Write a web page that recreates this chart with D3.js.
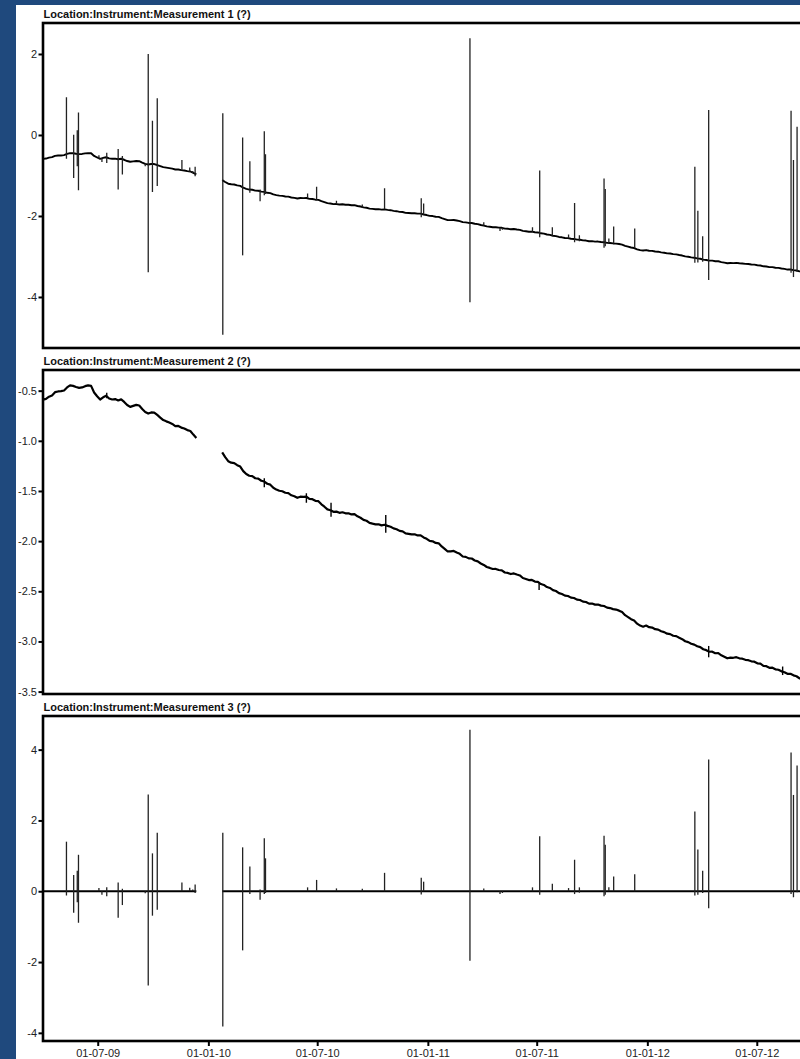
<!DOCTYPE html>
<html>
<head>
<meta charset="utf-8">
<script src="https://cdn.jsdelivr.net/npm/d3@7"></script>
<style>
  html, body { margin: 0; padding: 0; background: #1f497d; }
  svg { display: block; }
  text { font-family: "Liberation Sans", Arial, sans-serif; }
</style>
</head>
<body>
<svg id="chart" width="800" height="1059"></svg>
<script>
// ---- Data -------------------------------------------------------------
const titles = [
  "Location:Instrument:Measurement 1 (?)",
  "Location:Instrument:Measurement 2 (?)",
  "Location:Instrument:Measurement 3 (?)"
];

// Measurement 2 is logged every 5 days, in two recording periods
const sampleStepDays = 5;
const seg1Start = "2009-04-01";
const seg1Values = [
  -0.590, -0.582, -0.560, -0.548, -0.515, -0.508, -0.505, -0.498, -0.468, -0.447,
  -0.452, -0.463, -0.472, -0.468, -0.455, -0.447, -0.452, -0.518, -0.556, -0.588,
  -0.566, -0.550, -0.578, -0.588, -0.584, -0.598, -0.587, -0.612, -0.643, -0.662,
  -0.652, -0.642, -0.648, -0.682, -0.712, -0.728, -0.717, -0.718, -0.742, -0.768,
  -0.793, -0.806, -0.818, -0.832, -0.853, -0.852, -0.868, -0.877, -0.893, -0.902,
  -0.938, -0.972
];
const seg2Start = "2010-01-24";
const seg2Values = [
  -1.115, -1.162, -1.203, -1.218, -1.222, -1.243, -1.257, -1.302, -1.331, -1.348,
  -1.352, -1.373, -1.377, -1.398, -1.406, -1.428, -1.437, -1.468, -1.486, -1.498,
  -1.503, -1.518, -1.522, -1.543, -1.552, -1.568, -1.557, -1.558, -1.556, -1.578,
  -1.582, -1.598, -1.602, -1.633, -1.657, -1.684, -1.692, -1.708, -1.706, -1.718,
  -1.712, -1.723, -1.722, -1.734, -1.731, -1.753, -1.767, -1.788, -1.797, -1.818,
  -1.826, -1.833, -1.832, -1.843, -1.837, -1.848, -1.857, -1.873, -1.882, -1.898,
  -1.902, -1.923, -1.927, -1.933, -1.932, -1.943, -1.942, -1.963, -1.977, -1.998,
  -2.002, -2.018, -2.022, -2.053, -2.077, -2.103, -2.102, -2.098, -2.113, -2.127,
  -2.153, -2.157, -2.172, -2.173, -2.193, -2.202, -2.223, -2.237, -2.258, -2.267,
  -2.278, -2.277, -2.288, -2.292, -2.313, -2.317, -2.328, -2.322, -2.333, -2.342,
  -2.368, -2.377, -2.388, -2.387, -2.403, -2.407, -2.428, -2.437, -2.458, -2.467,
  -2.488, -2.497, -2.518, -2.527, -2.543, -2.547, -2.563, -2.567, -2.583, -2.587,
  -2.603, -2.607, -2.623, -2.622, -2.633, -2.632, -2.643, -2.647, -2.663, -2.667,
  -2.678, -2.682, -2.693, -2.707, -2.738, -2.757, -2.778, -2.792, -2.823, -2.842,
  -2.853, -2.842, -2.858, -2.862, -2.878, -2.882, -2.898, -2.907, -2.923, -2.927,
  -2.943, -2.947, -2.963, -2.977, -2.998, -3.007, -3.023, -3.032, -3.048, -3.057,
  -3.078, -3.087, -3.103, -3.102, -3.118, -3.117, -3.138, -3.152, -3.168, -3.162,
  -3.163, -3.157, -3.168, -3.172, -3.183, -3.187, -3.198, -3.202, -3.218, -3.222,
  -3.243, -3.247, -3.263, -3.262, -3.278, -3.282, -3.298, -3.307, -3.323, -3.322,
  -3.338, -3.347, -3.368, -3.372
];

// Short excursions visible on Measurement 2
const blipDates = ["2009-07-16", "2010-04-04", "2010-06-13", "2010-07-24", "2010-10-23",
                   "2011-07-05", "2012-04-12", "2012-08-13"];
const blipHigh = [-0.520, -1.374, -1.523, -1.617, -1.739, -2.420, -3.045, -3.250];
const blipLow  = [-0.576, -1.464, -1.617, -1.756, -1.916, -2.487, -3.158, -3.335];

// Measurement 3: spikes around zero (max and min within each event)
const spikeDates = [
  "2009-05-10", "2009-05-22", "2009-05-28", "2009-05-30", "2009-07-03", "2009-07-08",
  "2009-07-16", "2009-08-04", "2009-08-11", "2009-09-18", "2009-09-23", "2009-09-30",
  "2009-10-08", "2009-11-18", "2009-12-01", "2009-12-06", "2009-12-10",
  "2010-01-25", "2010-02-27", "2010-03-11", "2010-03-28", "2010-04-04", "2010-04-06",
  "2010-06-15", "2010-06-30", "2010-08-02", "2010-09-14", "2010-10-21", "2010-12-21",
  "2010-12-25", "2011-03-12", "2011-04-04", "2011-05-01", "2011-05-05", "2011-06-24",
  "2011-07-06", "2011-07-27", "2011-08-23", "2011-09-02", "2011-09-10", "2011-10-21",
  "2011-10-23", "2011-10-29", "2011-11-06", "2011-12-11", "2012-03-20", "2012-03-25",
  "2012-04-02", "2012-04-12", "2012-08-27", "2012-08-31", "2012-09-06"
];
const spikeHigh = [
  1.40, 0.46, 0.58, 1.03, 0.09, 0.00, 0.11, 0.25, 0.07, 0.00, 2.73, 1.07,
  1.65, 0.25, 0.10, 0.05, 0.19,
  1.65, 1.24, 0.70, 0.05, 1.50, 0.93, 0.11, 0.32, 0.08, 0.07, 0.52, 0.38,
  0.27, 4.56, 0.08, 0.00, 0.00, 0.11, 1.55, 0.21, 0.09, 0.89, 0.11, 1.57,
  1.31, 0.11, 0.42, 0.48, 2.25, 1.18, 0.58, 3.72, 3.92, 2.72, 3.55
];
const spikeLow = [
  -0.12, -0.61, -0.31, -0.89, 0.00, -0.10, -0.14, -0.75, -0.39, -0.06, -2.66, -0.69,
  -0.52, 0.00, 0.00, 0.00, -0.05,
  -3.82, -1.67, -0.08, -0.24, -0.08, -0.05, 0.00, 0.00, 0.00, 0.00, 0.00, -0.09,
  0.00, -1.96, 0.00, -0.08, -0.05, 0.00, -0.10, 0.00, 0.00, -0.08, -0.04, -0.14,
  -0.10, 0.00, 0.00, 0.00, -0.12, -0.10, -0.05, -0.48, -0.08, -0.17, -0.03
];

const xTickDates = ["2009-07-01", "2010-01-01", "2010-07-01", "2011-01-01",
                    "2011-07-01", "2012-01-01", "2012-07-01"];
const yTicks1 = [2, 0, -2, -4];
const yTicks2 = [-0.5, -1.0, -1.5, -2.0, -2.5, -3.0, -3.5];
const yTicks3 = [4, 2, 0, -2, -4];

// ---- Preparation ------------------------------------------------------
const parse = d3.utcParse("%Y-%m-%d");
const expand = (start, values) => {
  const t0 = parse(start);
  return values.map((v, i) => ({ date: d3.utcDay.offset(t0, i * sampleStepDays), value: v }));
};
const segments = [expand(seg1Start, seg1Values), expand(seg2Start, seg2Values)];
const allSamples = segments.flat();
const nearest = d3.bisector(d => d.date).center;
const baseAt = dt => allSamples[nearest(allSamples, dt)].value;

const spikes = spikeDates.map((d, i) => ({ date: parse(d), hi: spikeHigh[i], lo: spikeLow[i] }));
const blips = blipDates.map((d, i) => ({ date: parse(d), hi: blipHigh[i], lo: blipLow[i] }));

// Measurement 1 carries the drift of channel 2 with the spikes of channel 3 on top
const m1Spikes = spikes.map(s => {
  const b = baseAt(s.date);
  return { date: s.date, hi: b + s.hi, lo: b + s.lo };
});
// Measurement 3 rests on zero through each recording period
const zeroRuns = segments.map(seg => [
  { date: seg[0].date, value: 0 },
  { date: seg[seg.length - 1].date, value: 0 }
]);

// ---- Drawing ----------------------------------------------------------
const svg = d3.select("#chart");
svg.append("rect").attr("x", 16).attr("y", 5).attr("width", 784).attr("height", 1054)
  .attr("fill", "#ffffff");

const left = 43, right = 808.5;
const x = d3.scaleUtc()
  .domain([parse("2009-04-01"), parse("2012-09-25")])
  .range([left, right]);

const panels = [
  { title: titles[0], top: 23, bottom: 348, domain: [-5.26, 2.765], ticks: yTicks1, dec: 0 },
  { title: titles[1], top: 370, bottom: 694, domain: [-3.524, -0.294], ticks: yTicks2, dec: 1 },
  { title: titles[2], top: 716, bottom: 1041, domain: [-4.23, 4.95], ticks: yTicks3, dec: 0 }
];

panels.forEach((p, k) => {
  const y = d3.scaleLinear().domain(p.domain).range([p.bottom, p.top]);
  const g = svg.append("g");
  const clipId = "clip" + k;
  svg.append("clipPath").attr("id", clipId).append("rect")
    .attr("x", left).attr("y", p.top).attr("width", right - left).attr("height", p.bottom - p.top);
  const plot = g.append("g").attr("clip-path", `url(#${clipId})`);

  const line = d3.line().x(d => x(d.date)).y(d => y(d.value));
  const spikeSet = k === 0 ? m1Spikes : k === 1 ? blips : spikes;

  if (k === 2) {
    plot.selectAll("path.zero").data(zeroRuns).join("path")
      .attr("class", "zero").attr("d", line)
      .attr("fill", "none").attr("stroke", "#000").attr("stroke-width", 1.8);
  } else {
    plot.selectAll("path.series").data(segments).join("path")
      .attr("class", "series").attr("d", line)
      .attr("fill", "none").attr("stroke", "#000")
      .attr("stroke-width", k === 1 ? 2.2 : 1.9)
      .attr("stroke-linejoin", "round");
  }

  plot.selectAll("line.spike").data(spikeSet).join("line")
    .attr("class", "spike")
    .attr("x1", d => x(d.date)).attr("x2", d => x(d.date))
    .attr("y1", d => y(d.hi)).attr("y2", d => y(d.lo) + (d.hi === d.lo ? 1 : 0))
    .attr("stroke", k === 1 ? "#000" : "#222")
    .attr("stroke-width", k === 1 ? 1.4 : 1.3);

  // frame
  g.append("rect").attr("x", left).attr("y", p.top)
    .attr("width", right - left).attr("height", p.bottom - p.top)
    .attr("fill", "none").attr("stroke", "#000").attr("stroke-width", 2.6);

  // y axis
  const ya = g.append("g").attr("transform", `translate(${left},0)`)
    .call(d3.axisLeft(y).tickValues(p.ticks).tickSize(4.5).tickPadding(1.5)
      .tickFormat(v => v.toFixed(p.dec)));
  ya.select(".domain").remove();
  ya.selectAll(".tick line").attr("stroke", "#000").attr("stroke-width", 2);
  ya.selectAll(".tick text").attr("fill", "#222").style("font-size", "11px")
    .style("font-family", '"Liberation Sans", Arial, sans-serif');

  // title
  svg.append("text").attr("x", 43.5).attr("y", p.top - 5.5)
    .attr("fill", "#111").style("font-size", "11px").style("font-weight", "bold")
    .text(p.title);

  if (k === 2) {
    const xa = g.append("g").attr("transform", `translate(0,${p.bottom})`)
      .call(d3.axisBottom(x).tickValues(xTickDates.map(parse)).tickSize(5).tickPadding(2.8)
        .tickFormat(d3.utcFormat("%d-%m-%y")));
    xa.select(".domain").remove();
    xa.selectAll(".tick line").attr("stroke", "#000").attr("stroke-width", 2);
    xa.selectAll(".tick text").attr("fill", "#222").style("font-size", "11px")
      .style("font-family", '"Liberation Sans", Arial, sans-serif');
  }
});
</script>
</body>
</html>
